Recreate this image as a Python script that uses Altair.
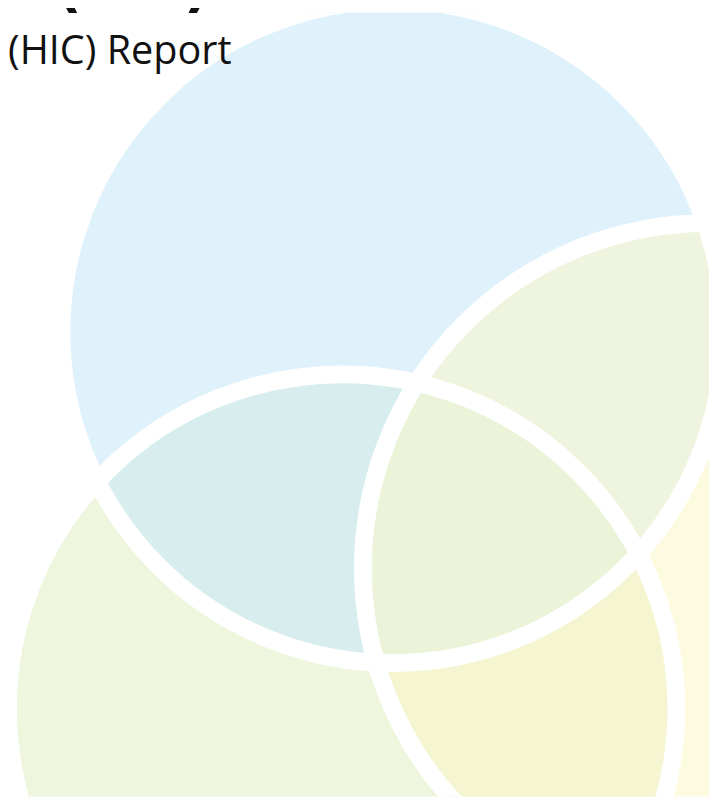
import altair as alt
import pandas as pd

# ---- data (positions in page pixels of the original artwork) ----
circle_name = ["Blue", "Green", "Yellow"]
circle_cx = [397, 346, 716]
circle_cy = [331, 712, 570]
circle_r = [335, 338, 349]
circle_fill = ["#CAE9F8", "#EEF6DE", "#FAF6C7"]
circle_alpha = [0.6, 1.0, 0.57]
draw_rank = [2, 1, 3]          # green first, blue over it, yellow on top

title_bold = "(PIT)"
title_regular = "(HIC) Report"

W, H = 709, 793

df = pd.DataFrame({
    "name": circle_name,
    "cx": circle_cx,
    "cy": circle_cy,
    "r": circle_r,
    "fill": circle_fill,
    "alpha": circle_alpha,
    "rank": draw_rank,
})
df["size"] = (2 * df["r"]) ** 2
df = df.sort_values("rank").reset_index(drop=True)

xs = alt.Scale(domain=[8, 8 + W], range=[0, W])
ys = alt.Scale(domain=[8, 8 + H], range=[0, H])

base = alt.Chart(df).encode(
    x=alt.X("cx:Q", scale=xs, axis=None),
    y=alt.Y("cy:Q", scale=ys, axis=None),
    size=alt.Size("size:Q", scale=None, legend=None),
)

fills = base.mark_point(filled=True, shape="circle", strokeWidth=0, clip=True).encode(
    fill=alt.Fill("fill:N", scale=None),
    opacity=alt.Opacity("alpha:Q", scale=None),
    order=alt.Order("rank:Q"),
)

strokes = base.mark_point(
    filled=False, shape="circle", stroke="white", strokeWidth=18, opacity=1, clip=True
)

t1 = alt.Chart(pd.DataFrame({"t": [title_bold]})).mark_text(
    align="left", baseline="alphabetic", font="DejaVu Sans", fontSize=58,
    fontWeight="bold", color="#111111"
).encode(text="t:N", x=alt.value(48), y=alt.value(-8))

t2 = alt.Chart(pd.DataFrame({"t": [title_regular]})).mark_text(
    align="left", baseline="alphabetic", font="Open Sans", fontSize=40,
    color="#111111"
).encode(text="t:N", x=alt.value(0), y=alt.value(52))

chart = alt.layer(fills, strokes, t1, t2).properties(
    width=W, height=H,
    autosize=alt.AutoSizeParams(type="none"),
    padding=0,
    background="white",
).configure_view(strokeWidth=0)

chart.save("out.html", embed_options={"renderer": "svg", "actions": False})
